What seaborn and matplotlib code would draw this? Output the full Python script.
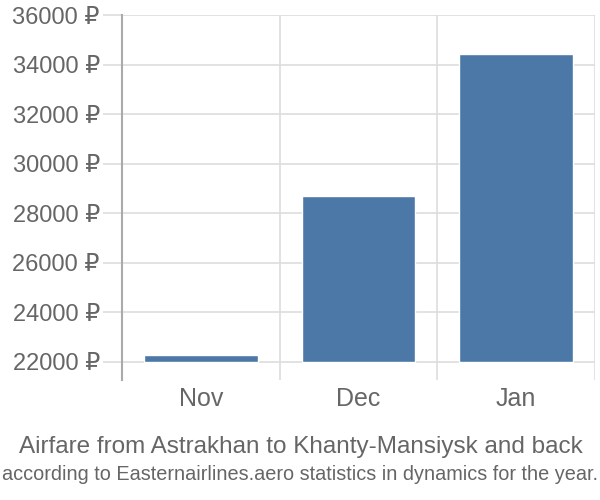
import matplotlib
matplotlib.use("Agg")
import matplotlib.pyplot as plt
import seaborn as sns
import pandas as pd
from matplotlib.ticker import FuncFormatter, FixedLocator

months = ["Nov", "Dec", "Jan"]
prices = [22260, 28690, 34420]
base_value = 22000
y_ticks = [22000, 24000, 26000, 28000, 30000, 32000, 34000, 36000]
title = "Airfare from Astrakhan to Khanty-Mansiysk and back"
subtitle = "according to Easternairlines.aero statistics in dynamics for the year."

sns.set_theme(style="white")
plt.rcParams["font.family"] = ["Liberation Sans", "DejaVu Sans"]

df = pd.DataFrame({"month": months, "price": prices})

fig = plt.figure(figsize=(6, 5), dpi=100)
ax = fig.add_axes([122/600, 1-380/500, 473/600, (380-15)/500])

sns.barplot(data=df, x="month", y="price", color="#4c78a8", saturation=1,
            width=0.72, ax=ax, zorder=3)
for p in ax.patches:
    h = p.get_height()
    p.set_y(base_value)
    p.set_height(h - base_value)

ax.set_xlim(-0.5, 2.5)
ax.set_ylim(21270, 36000)
ax.yaxis.set_major_locator(FixedLocator(y_ticks))
ax.yaxis.set_major_formatter(FuncFormatter(lambda v, _: f"{int(v)} ₽"))
ax.xaxis.set_minor_locator(FixedLocator([0.5, 1.5, 2.5]))

ax.grid(True, axis="y", which="major", color="#dddddd", linewidth=1.2, zorder=0)
ax.grid(True, axis="x", which="minor", color="#dddddd", linewidth=1.2, zorder=0)
ax.grid(False, axis="x", which="major")

for s in ["top", "right", "bottom"]:
    ax.spines[s].set_visible(False)
ax.spines["left"].set_color("#aaaaaa")
ax.spines["left"].set_linewidth(1.5)

ax.tick_params(axis="y", which="major", length=14, width=1.2, color="#dddddd",
               labelsize=17, labelcolor="#666666", pad=2, left=True)
ax.tick_params(axis="x", which="major", length=0, labelsize=18,
               labelcolor="#666666", pad=5)
ax.tick_params(axis="x", which="minor", length=0)
ax.set_xlabel("")
ax.set_ylabel("")

fig.text(0.502, 1-447/500, title, ha="center", va="center", fontsize=17.5,
         color="#666666")
fig.text(0.5, 1-475/500, subtitle, ha="center", va="center", fontsize=14.3,
         color="#666666")

fig.savefig("out.png", dpi=100)
